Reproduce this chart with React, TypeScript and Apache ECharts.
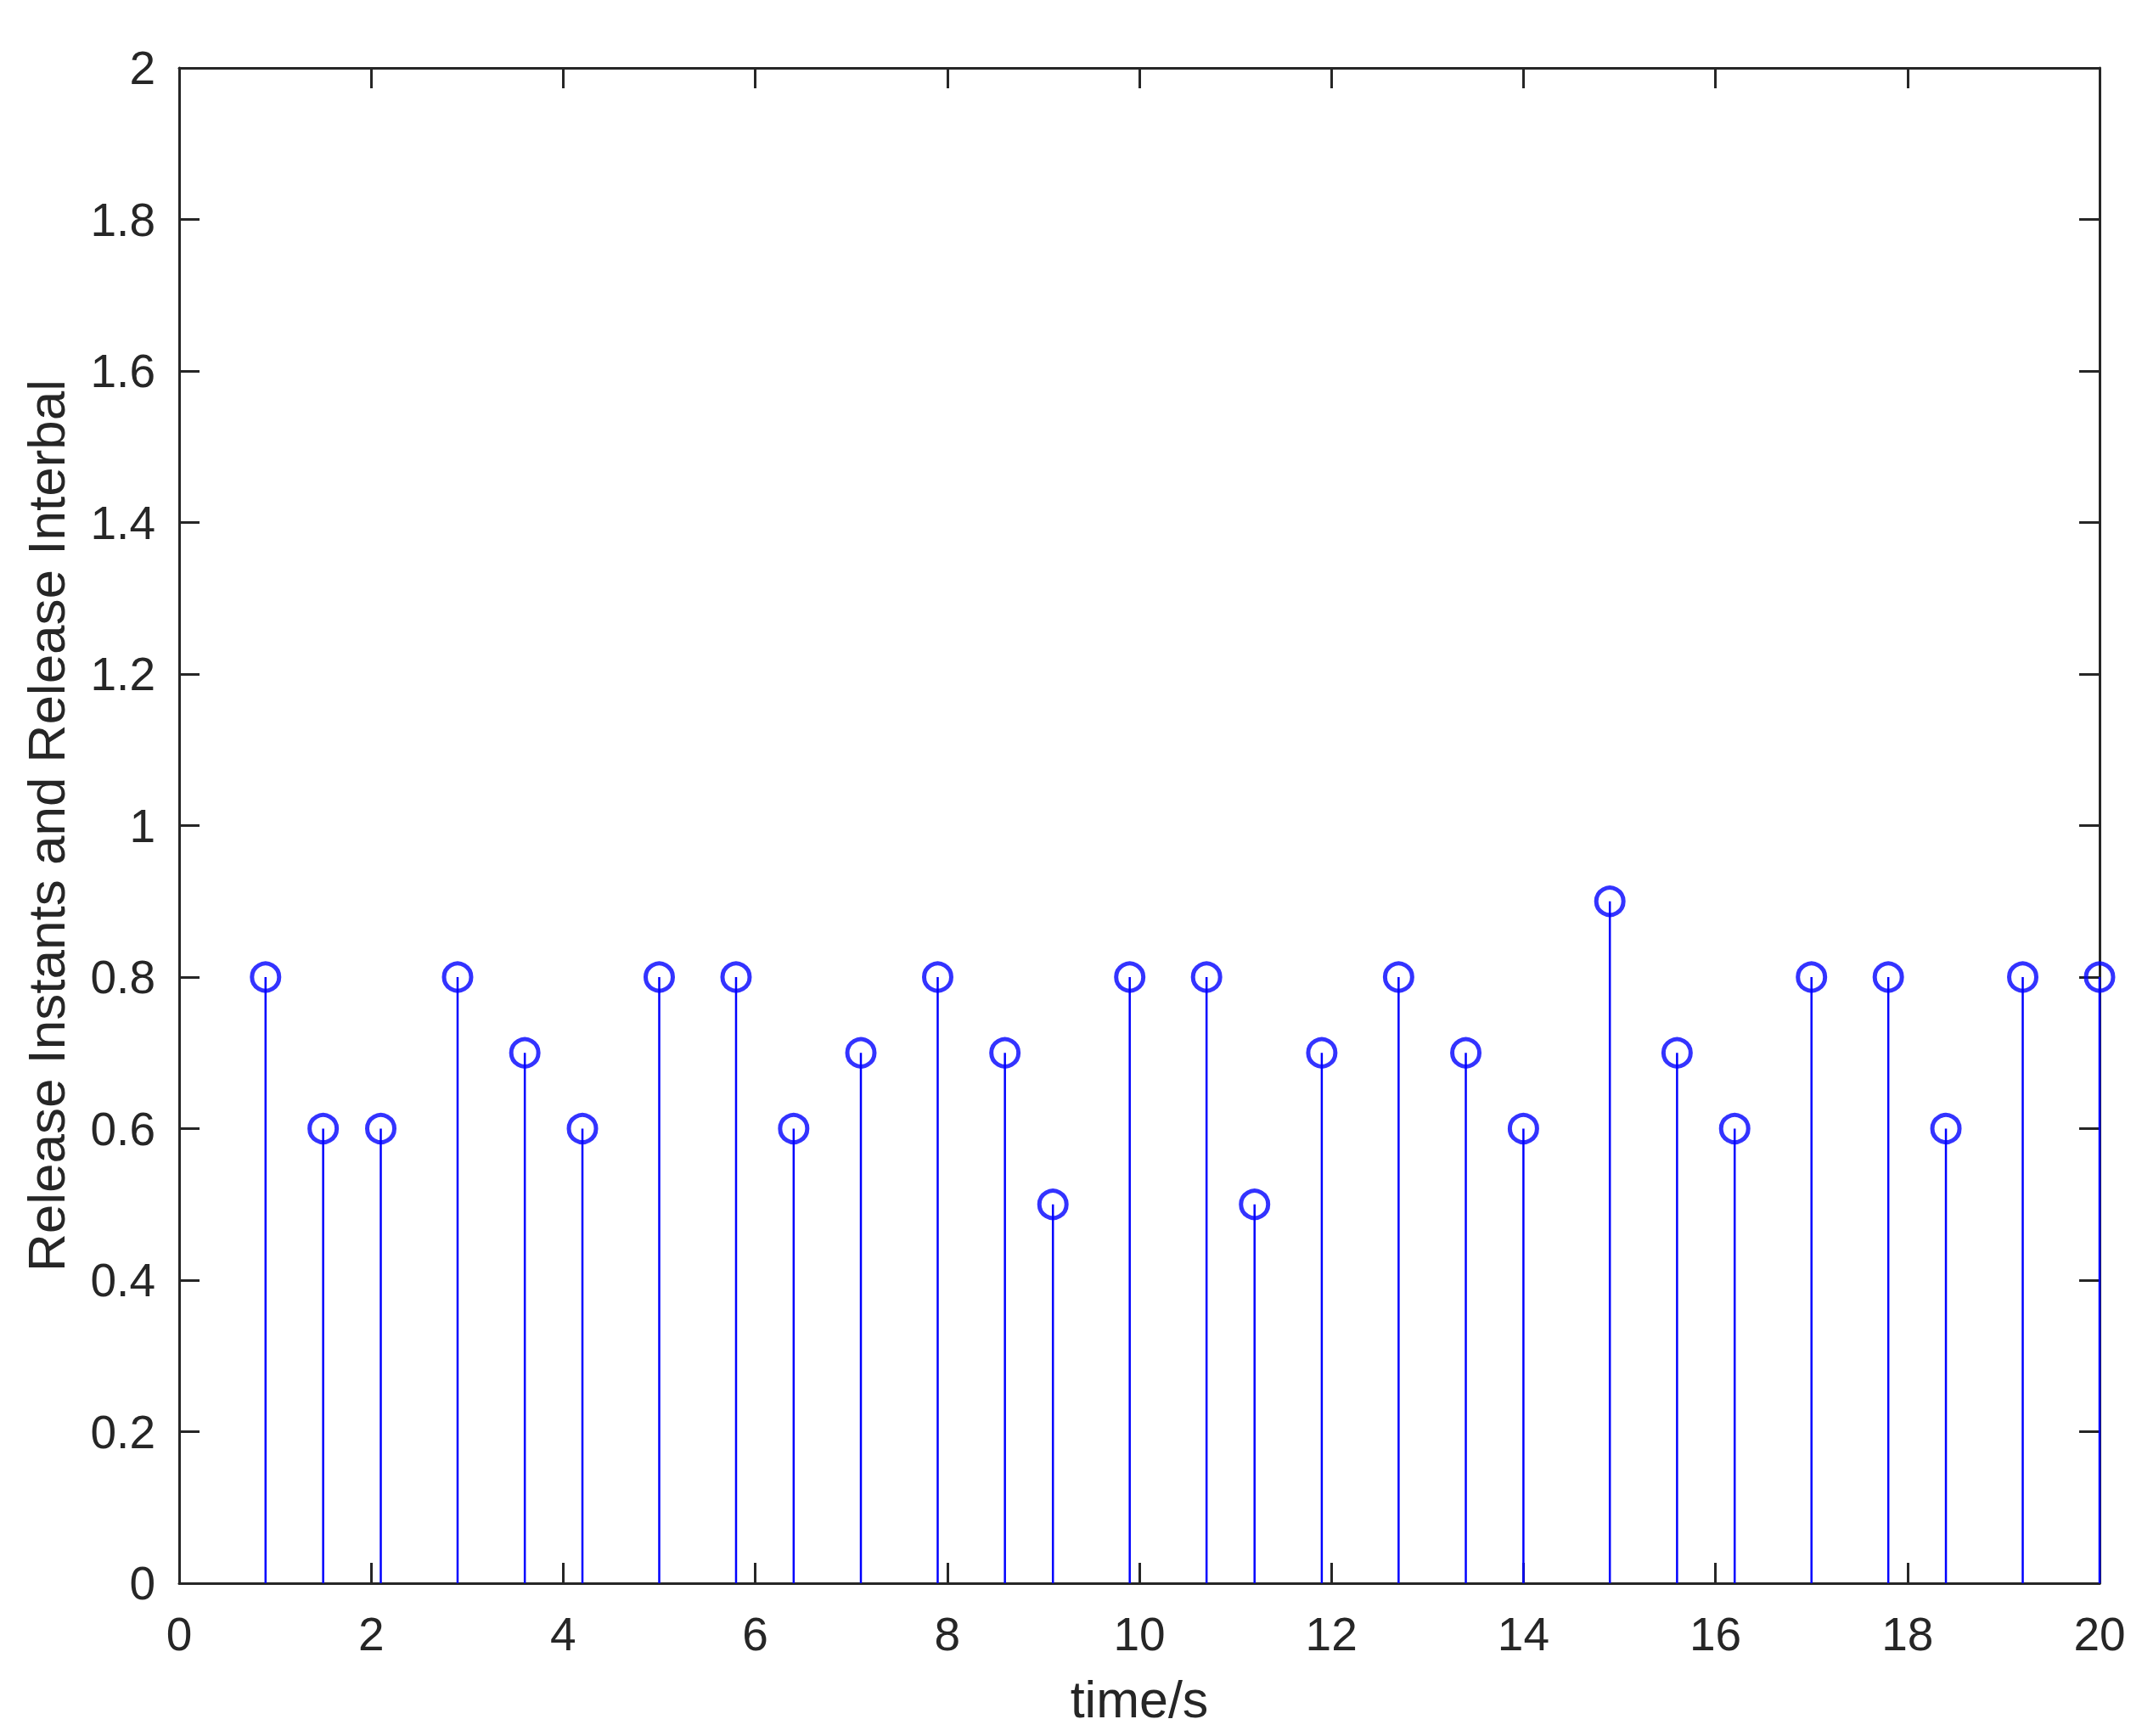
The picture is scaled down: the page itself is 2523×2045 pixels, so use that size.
import React, { useEffect, useRef } from "react";
import * as echarts from "echarts";

const releaseTimes = [0.9, 1.5, 2.1, 2.9, 3.6, 4.2, 5.0, 5.8, 6.4, 7.1, 7.9, 8.6, 9.1, 9.9, 10.7, 11.2, 11.9, 12.7, 13.4, 14.0, 14.9, 15.6, 16.2, 17.0, 17.8, 18.4, 19.2, 20.0];
const releaseIntervals = [0.8, 0.6, 0.6, 0.8, 0.7, 0.6, 0.8, 0.8, 0.6, 0.7, 0.8, 0.7, 0.5, 0.8, 0.8, 0.5, 0.7, 0.8, 0.7, 0.6, 0.9, 0.7, 0.6, 0.8, 0.8, 0.6, 0.8, 0.8];

const xTitle = "time/s";
const yTitle = "Release Instants and Release Interbal";

const AXIS = "#262626";
const BLUE = "#0000ff";
const FONT = "'Liberation Sans', Arial, Helvetica, sans-serif";

export default function App() {
  const ref = useRef<HTMLDivElement>(null);
  useEffect(() => {
    document.body.style.margin = "0";
    const chart = echarts.init(ref.current!, null, { renderer: "svg" });
    const data = releaseTimes.map((t, i) => [t, releaseIntervals[i]]);
    const axisLine = { show: true, onZero: false, lineStyle: { color: AXIS, width: 3 } };
    const axisTick = { show: true, inside: true, length: 24, lineStyle: { color: AXIS, width: 3 } };
    const labelStyle = { color: AXIS, fontSize: 55, fontFamily: FONT };
    chart.setOption({
      animation: false,
      backgroundColor: "#ffffff",
      grid: { left: 211, right: 50, top: 80, bottom: 180, containLabel: false },
      xAxis: [
        {
          type: "value", min: 0, max: 20, interval: 2, position: "bottom",
          axisLine, axisTick, splitLine: { show: false },
          axisLabel: { ...labelStyle, margin: 32 },
          name: xTitle, nameLocation: "middle", nameGap: 106,
          nameTextStyle: { color: AXIS, fontSize: 61, fontFamily: FONT },
        },
        {
          type: "value", min: 0, max: 20, interval: 2, position: "top",
          axisLine, axisTick, splitLine: { show: false }, axisLabel: { show: false },
        },
      ],
      yAxis: [
        {
          type: "value", min: 0, max: 2, interval: 0.2, position: "left",
          axisLine, axisTick, splitLine: { show: false },
          axisLabel: { ...labelStyle, margin: 28 },
          name: yTitle, nameLocation: "middle", nameGap: 126,
          nameTextStyle: { color: AXIS, fontSize: 62, fontFamily: FONT },
        },
        {
          type: "value", min: 0, max: 2, interval: 0.2, position: "right",
          axisLine, axisTick, splitLine: { show: false }, axisLabel: { show: false },
        },
      ],
      series: [
        {
          type: "custom",
          xAxisIndex: 0, yAxisIndex: 0,
          data,
          renderItem: (params: any, api: any) => {
            const top = api.coord([api.value(0), api.value(1)]);
            const base = api.coord([api.value(0), 0]);
            return {
              type: "line",
              shape: { x1: base[0], y1: base[1], x2: top[0], y2: top[1] },
              style: { stroke: BLUE, lineWidth: 2.5 },
            };
          },
          z: 2,
        },
        {
          type: "scatter",
          xAxisIndex: 0, yAxisIndex: 0,
          data,
          symbol: "circle",
          symbolSize: 32,
          itemStyle: { color: "rgba(255,255,255,0)", borderColor: BLUE, borderWidth: 5 },
          clip: false,
          z: 3,
        },
      ],
    });
    return () => chart.dispose();
  }, []);
  return <div ref={ref} style={{ width: 2523, height: 2045 }} />;
}
